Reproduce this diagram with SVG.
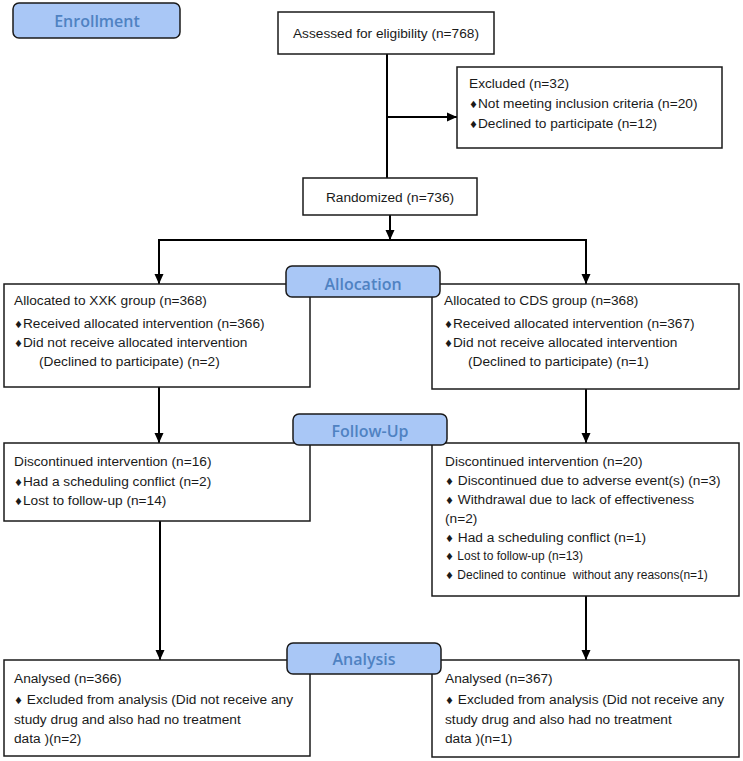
<svg xmlns="http://www.w3.org/2000/svg" width="743" height="761" viewBox="0 0 743 761">
<style>
.box{fill:#fff;stroke:#1a1a1a;stroke-width:1.5}
.lbl{fill:#a9c7f6;stroke:#1a1a1a;stroke-width:1.5}
.lt{font-family:"Open Sans",Lato,"Liberation Sans",sans-serif;font-weight:600;font-size:16px;fill:#4f82c2;text-anchor:middle}
.t{font-family:"Liberation Sans",Arial,sans-serif;font-size:13.7px;fill:#1a1a1a;white-space:pre}
.s{font-size:12px}
.d{font-family:"DejaVu Sans",sans-serif;font-size:10px}
.c{stroke:#000;stroke-width:2;fill:none}
</style>
<defs>
<marker id="ah" markerUnits="userSpaceOnUse" markerWidth="10" markerHeight="10" refX="10" refY="5" orient="auto">
<path d="M0,0.5 L10,5 L0,9.5 z" fill="#000"/>
</marker>
</defs>

<g id="connectors">
<line class="c" x1="387" y1="54" x2="387" y2="178"/>
<line class="c" x1="387" y1="117" x2="457" y2="117" marker-end="url(#ah)"/>
<line class="c" x1="390" y1="215" x2="390" y2="240" marker-end="url(#ah)"/>
<line class="c" x1="158" y1="240" x2="587" y2="240"/>
<line class="c" x1="159" y1="240" x2="159" y2="284" marker-end="url(#ah)"/>
<line class="c" x1="586" y1="240" x2="586" y2="284" marker-end="url(#ah)"/>
<line class="c" x1="159" y1="387" x2="159" y2="443" marker-end="url(#ah)"/>
<line class="c" x1="586" y1="389" x2="586" y2="443" marker-end="url(#ah)"/>
<line class="c" x1="160" y1="521" x2="160" y2="660" marker-end="url(#ah)"/>
<line class="c" x1="586" y1="596" x2="586" y2="660" marker-end="url(#ah)"/>
</g>

<g id="assessed">
<rect class="box" x="278" y="12" width="216" height="42"/>
<text class="t" x="386" y="38" text-anchor="middle">Assessed for eligibility (n=768)</text>
</g>

<g id="excluded">
<rect class="box" x="457" y="67" width="265" height="81"/>
<text class="t" x="469" y="88">Excluded (n=32)</text>
<text class="t" x="469" y="108"><tspan class="d">♦</tspan>Not meeting inclusion criteria (n=20)</text>
<text class="t" x="469" y="128"><tspan class="d">♦</tspan>Declined to participate (n=12)</text>
</g>

<g id="randomized">
<rect class="box" x="303" y="178" width="174" height="37"/>
<text class="t" x="390" y="202" text-anchor="middle">Randomized (n=736)</text>
</g>

<g id="alloc-xxk">
<rect class="box" x="4" y="284" width="306" height="103"/>
<text class="t" x="14" y="305">Allocated to XXK group (n=368)</text>
<text class="t" x="14" y="328"><tspan class="d">♦</tspan>Received allocated intervention (n=366)</text>
<text class="t" x="14" y="347"><tspan class="d">♦</tspan>Did not receive allocated intervention</text>
<text class="t" x="39" y="366">(Declined to participate) (n=2)</text>
</g>

<g id="alloc-cds">
<rect class="box" x="432" y="284" width="307" height="105"/>
<text class="t" x="444" y="305">Allocated to CDS group (n=368)</text>
<text class="t" x="444" y="328"><tspan class="d">♦</tspan>Received allocated intervention (n=367)</text>
<text class="t" x="444" y="347"><tspan class="d">♦</tspan>Did not receive allocated intervention</text>
<text class="t" x="468" y="366">(Declined to participate) (n=1)</text>
</g>

<g id="fu-xxk">
<rect class="box" x="4" y="443" width="306" height="78"/>
<text class="t" x="14" y="466">Discontinued intervention (n=16)</text>
<text class="t" x="14" y="486"><tspan class="d">♦</tspan>Had a scheduling conflict (n=2)</text>
<text class="t" x="14" y="505"><tspan class="d">♦</tspan>Lost to follow-up (n=14)</text>
</g>

<g id="fu-cds">
<rect class="box" x="432" y="443" width="307" height="153"/>
<text class="t" x="445" y="466">Discontinued intervention (n=20)</text>
<text class="t" x="445" y="485"><tspan class="d">♦</tspan> Discontinued due to adverse event(s) (n=3)</text>
<text class="t" x="445" y="504"><tspan class="d">♦</tspan> Withdrawal due to lack of effectiveness</text>
<text class="t" x="445" y="523">(n=2)</text>
<text class="t" x="445" y="542"><tspan class="d">♦</tspan> Had a scheduling conflict (n=1)</text>
<text class="t s" x="445" y="560"><tspan class="d">♦</tspan> Lost to follow-up (n=13)</text>
<text class="t s" x="445" y="579"><tspan class="d">♦</tspan> Declined to continue  without any reasons(n=1)</text>
</g>

<g id="an-xxk">
<rect class="box" x="4" y="660" width="306" height="96"/>
<text class="t" x="14" y="683">Analysed (n=366)</text>
<text class="t" x="14" y="704"><tspan class="d">♦</tspan> Excluded from analysis (Did not receive any</text>
<text class="t" x="14" y="724">study drug and also had no treatment</text>
<text class="t" x="14" y="743">data )(n=2)</text>
</g>

<g id="an-cds">
<rect class="box" x="432" y="660" width="307" height="97"/>
<text class="t" x="445" y="683">Analysed (n=367)</text>
<text class="t" x="445" y="704"><tspan class="d">♦</tspan> Excluded from analysis (Did not receive any</text>
<text class="t" x="445" y="724">study drug and also had no treatment</text>
<text class="t" x="445" y="743">data )(n=1)</text>
</g>

<g id="lbl-enrollment">
<rect class="lbl" x="13" y="3" width="167" height="35" rx="6"/>
<text class="lt" x="97" y="27">Enrollment</text>
</g>
<g id="lbl-allocation">
<rect class="lbl" x="286" y="266" width="154" height="31" rx="6"/>
<text class="lt" x="363" y="290">Allocation</text>
</g>
<g id="lbl-followup">
<rect class="lbl" x="293" y="414" width="154" height="31" rx="6"/>
<text class="lt" x="370" y="437">Follow-Up</text>
</g>
<g id="lbl-analysis">
<rect class="lbl" x="287" y="643" width="154" height="31" rx="6"/>
<text class="lt" x="364" y="665">Analysis</text>
</g>
</svg>
